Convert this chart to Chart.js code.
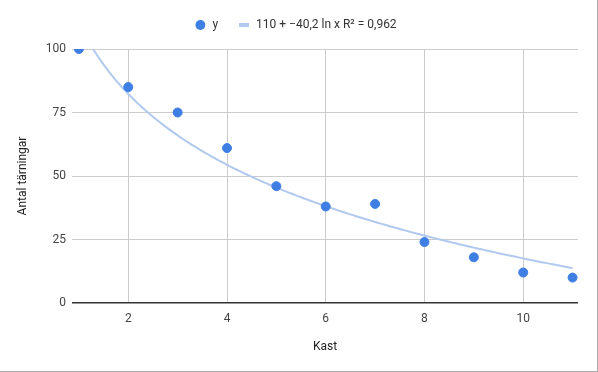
<!DOCTYPE html>
<html>
<head>
<meta charset="utf-8">
<script src="https://cdn.jsdelivr.net/npm/chart.js@4/dist/chart.umd.min.js"></script>
<style>
  body { margin: 0; background: #fff; }
  #wrap { width: 597px; height: 371px; border-right: 1px solid #aaa; border-bottom: 1px solid #aaa; }
</style>
</head>
<body>
<div id="wrap"><canvas id="myChart" width="597" height="371"></canvas></div>
<script>
/******************** Data ********************/

var kast = [1, 2, 3, 4, 5, 6, 7, 8, 9, 10, 11];
var tarningar = [100, 85, 75, 61, 46, 38, 39, 24, 18, 12, 10];
var xTicks = [2, 4, 6, 8, 10];
var yTicks = [0, 25, 50, 75, 100];

/******************** Log trendline (least squares on ln x) ********************/

var n = kast.length;
var lx = kast.map(function(x) { return Math.log(x); });
var mx = lx.reduce(function(a, b) { return a + b; }, 0) / n;
var my = tarningar.reduce(function(a, b) { return a + b; }, 0) / n;
var sxy = 0, sxx = 0, syy = 0;
for (var i = 0; i < n; i++) {
  sxy += (lx[i] - mx) * (tarningar[i] - my);
  sxx += (lx[i] - mx) * (lx[i] - mx);
  syy += (tarningar[i] - my) * (tarningar[i] - my);
}
var slope = sxy / sxx;
var intercept = my - slope * mx;
var r2 = (sxy * sxy) / (sxx * syy);

function fmt(v, d) { return v.toFixed(d).replace(".", ","); }
var trendLabel = Math.round(intercept) + " + \u2212" + fmt(-slope, 1) + " ln x R\u00b2 = " + fmt(r2, 3);

var trendPoints = [];
for (var x = kast[0]; x <= kast[n - 1] + 1e-9; x += 0.05) {
  trendPoints.push({ x: x, y: intercept + slope * Math.log(x) });
}

var dotColor = "#3f7fe3";
var trendColor = "#b1c9ee";

Chart.defaults.font.family = "Roboto, 'Noto Sans', sans-serif";
Chart.defaults.font.size = 12;

// legend: a bit more room below it, and centred on the whole canvas
var legendTweak = {
  id: "legendTweak",
  beforeLayout: function(chart) {
    var lg = chart.legend;
    if (lg && !lg._gapDone) {
      var fit = lg.fit;
      lg.fit = function() { fit.call(this); this.height += 8; };
      lg._gapDone = true;
    }
  },
  afterLayout: function(chart) {
    if (chart.legend) chart.legend.right += 13;
  }
};

new Chart("myChart", {
  type: "scatter",
  data: {
    datasets: [{
      label: "y",
      data: kast.map(function(k, i) { return { x: k, y: tarningar[i] }; }),
      backgroundColor: dotColor,
      borderColor: dotColor,
      pointRadius: 4.5,
      pointHoverRadius: 4.5,
      clip: 0,
      order: 1
    }, {
      label: trendLabel,
      type: "line",
      data: trendPoints,
      borderColor: trendColor,
      borderWidth: 2,
      pointRadius: 0,
      fill: false,
      tension: 0,
      clip: 0,
      order: 2
    }]
  },
  plugins: [legendTweak],
  options: {
    responsive: false,
    animation: false,
    layout: { padding: { top: -1, right: 19, left: 0, bottom: 0 } },
    plugins: {
      tooltip: { enabled: false },
      legend: {
        position: "top",
        labels: {
          color: "#333",
          padding: 20,
          generateLabels: function(chart) {
            return [{
              text: "y", fillStyle: dotColor, strokeStyle: dotColor, lineWidth: 0,
              pointStyle: "circle", datasetIndex: 0, fontColor: "#333"
            }, {
              text: trendLabel, fillStyle: trendColor, strokeStyle: trendColor, lineWidth: 4,
              pointStyle: "line", datasetIndex: 1, fontColor: "#333"
            }];
          },
          usePointStyle: true,
          boxWidth: 14,
          boxHeight: 7
        }
      }
    },
    scales: {
      x: {
        type: "linear",
        min: 0.86,
        max: 11.11,
        afterBuildTicks: function(axis) {
          axis.ticks = xTicks.map(function(v) { return { value: v }; });
        },
        afterFit: function(axis) { axis.height = 68; },
        grid: { color: "#ccc", drawTicks: false },
        border: { display: false },
        ticks: { color: "#444", padding: 9 },
        title: { display: true, text: "Kast", color: "#222", padding: { top: 2, bottom: 17 } }
      },
      y: {
        min: 0,
        max: 100,
        afterBuildTicks: function(axis) {
          axis.ticks = yTicks.map(function(v) { return { value: v }; });
        },
        afterFit: function(axis) { axis.width = 72; },
        grid: {
          drawTicks: false,
          color: function(ctx) { return ctx.tick && ctx.tick.value === 0 ? "#333" : "#ccc"; },
          lineWidth: function(ctx) { return ctx.tick && ctx.tick.value === 0 ? 1.5 : 1; }
        },
        border: { display: false },
        ticks: { color: "#444", padding: 6 },
        title: { display: true, text: "Antal t\u00e4rningar", color: "#222", padding: { top: 16, bottom: 0 } }
      }
    }
  }
});
</script>
</body>
</html>
